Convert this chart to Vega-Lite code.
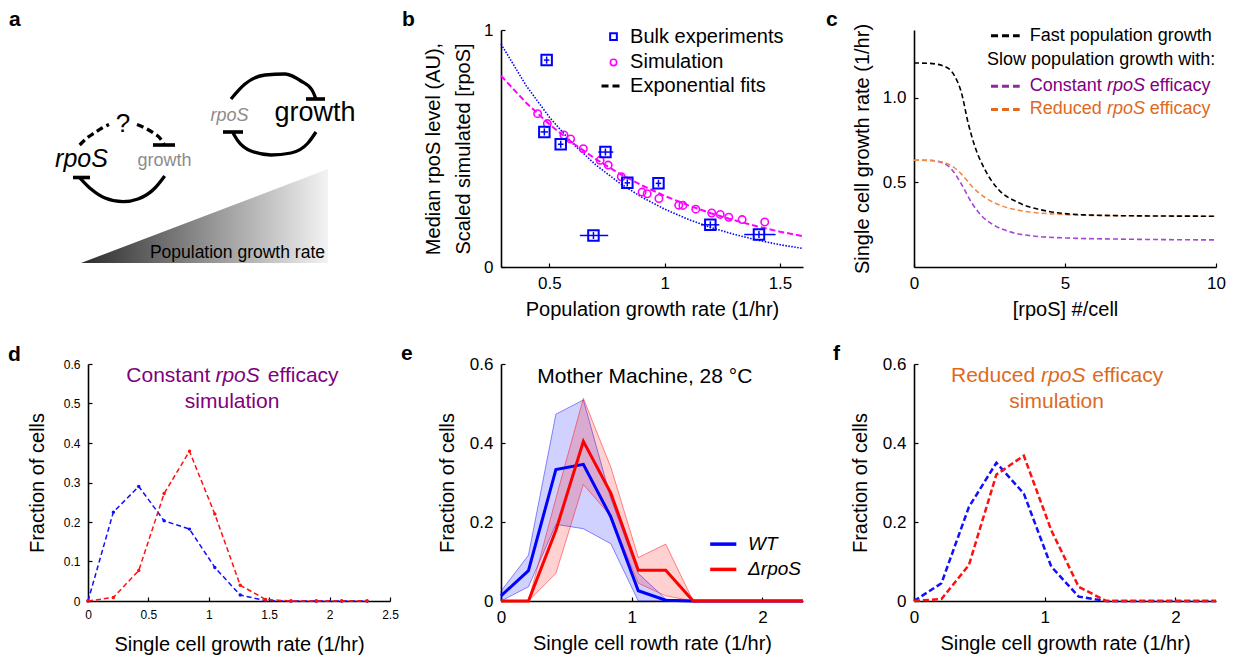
{
  "$schema": "https://vega.github.io/schema/vega-lite/v6.json",
  "background": "white",
  "padding": {"left": 8, "top": 8, "right": 5, "bottom": 5},
  "config": {
    "font": "Liberation Sans",
    "view": {"stroke": null},
    "axis": {"grid": false, "domainColor": "black", "domainWidth": 1.6, "tickColor": "black", "tickWidth": 1.2, "tickSize": -4, "labelPadding": 12, "labelColor": "black", "labelFontSize": 17, "labelFont": "Liberation Sans", "titleFont": "Liberation Sans", "titleFontSize": 20, "titleFontWeight": "normal", "titleColor": "black", "labelFlush": false, "labelOverlap": false, "titlePadding": 8},
    "title": {"fontSize": 21, "fontWeight": "bold", "anchor": "start", "frame": "group", "color": "black", "font": "Liberation Sans", "offset": 4}
  },
  "columns": 3,
  "bounds": "flush",
  "spacing": {"row": 97, "column": 111},
  "datasets": {
    "a_arcs": [
      {"x": 166.7, "y": 175, "arc": "L"}, {"x": 157, "y": 187, "arc": "L"}, {"x": 140, "y": 198, "arc": "L"}, {"x": 125, "y": 200.7, "arc": "L"}, {"x": 107, "y": 197, "arc": "L"}, {"x": 93, "y": 188, "arc": "L"}, {"x": 82, "y": 177, "arc": "L"},
      {"x": 233, "y": 98, "arc": "RT"}, {"x": 247, "y": 83, "arc": "RT"}, {"x": 267, "y": 74, "arc": "RT"}, {"x": 287, "y": 73, "arc": "RT"}, {"x": 303, "y": 80, "arc": "RT"}, {"x": 314, "y": 89, "arc": "RT"}, {"x": 318, "y": 98, "arc": "RT"},
      {"x": 318, "y": 131, "arc": "RB"}, {"x": 310, "y": 142, "arc": "RB"}, {"x": 293, "y": 152, "arc": "RB"}, {"x": 273, "y": 154, "arc": "RB"}, {"x": 253, "y": 150, "arc": "RB"}, {"x": 240, "y": 140, "arc": "RB"}, {"x": 235, "y": 132, "arc": "RB"}
    ],
    "a_dashed": [
      {"x": 81.7, "y": 144, "arc": "D1"}, {"x": 89, "y": 137, "arc": "D1"}, {"x": 96.7, "y": 131.7, "arc": "D1"}, {"x": 104, "y": 127, "arc": "D1"}, {"x": 111, "y": 123.5, "arc": "D1"},
      {"x": 139, "y": 123.5, "arc": "D2"}, {"x": 147, "y": 127, "arc": "D2"}, {"x": 155, "y": 131.7, "arc": "D2"}, {"x": 161, "y": 136, "arc": "D2"}, {"x": 166, "y": 143, "arc": "D2"}
    ],
    "a_bars": [
      {"x": 155, "x2": 177, "y": 144}, {"x": 75, "x2": 92, "y": 176.5}, {"x": 308, "x2": 327, "y": 98}, {"x": 225, "x2": 245, "y": 131}
    ],
    "b_fit_bulk": [
      {"x": 0.29, "y": 0.941}, {"x": 0.4, "y": 0.764}, {"x": 0.5, "y": 0.632}, {"x": 0.6, "y": 0.522}, {"x": 0.7, "y": 0.432}, {"x": 0.8, "y": 0.357}, {"x": 0.9, "y": 0.295}, {"x": 1.0, "y": 0.244}, {"x": 1.1, "y": 0.202}, {"x": 1.2, "y": 0.167}, {"x": 1.3, "y": 0.138}, {"x": 1.4, "y": 0.114}, {"x": 1.5, "y": 0.094}, {"x": 1.6, "y": 0.078}
    ],
    "b_fit_sim": [
      {"x": 0.29, "y": 0.807}, {"x": 0.4, "y": 0.692}, {"x": 0.5, "y": 0.602}, {"x": 0.6, "y": 0.524}, {"x": 0.7, "y": 0.456}, {"x": 0.8, "y": 0.396}, {"x": 0.9, "y": 0.345}, {"x": 1.0, "y": 0.300}, {"x": 1.1, "y": 0.261}, {"x": 1.2, "y": 0.227}, {"x": 1.3, "y": 0.198}, {"x": 1.4, "y": 0.172}, {"x": 1.5, "y": 0.149}, {"x": 1.6, "y": 0.130}
    ],
    "b_sim": [
      {"x": 0.449, "y": 0.647}, {"x": 0.491, "y": 0.605}, {"x": 0.563, "y": 0.557}, {"x": 0.592, "y": 0.540}, {"x": 0.647, "y": 0.499}, {"x": 0.720, "y": 0.450}, {"x": 0.755, "y": 0.430}, {"x": 0.812, "y": 0.381}, {"x": 0.902, "y": 0.316}, {"x": 0.924, "y": 0.309}, {"x": 0.975, "y": 0.289}, {"x": 1.061, "y": 0.261}, {"x": 1.079, "y": 0.260}, {"x": 1.135, "y": 0.244}, {"x": 1.204, "y": 0.228}, {"x": 1.241, "y": 0.222}, {"x": 1.278, "y": 0.210}, {"x": 1.336, "y": 0.200}, {"x": 1.434, "y": 0.190}
    ],
    "b_bulk": [
      {"x": 0.488, "y": 0.873}, {"x": 0.478, "y": 0.570}, {"x": 0.549, "y": 0.518}, {"x": 0.743, "y": 0.485}, {"x": 0.838, "y": 0.355}, {"x": 0.973, "y": 0.353}, {"x": 0.691, "y": 0.133}, {"x": 1.198, "y": 0.178}, {"x": 1.409, "y": 0.137}
    ],
    "b_xerr": [
      {"x": 0.476, "x2": 0.500, "y": 0.873}, {"x": 0.462, "x2": 0.494, "y": 0.570}, {"x": 0.537, "x2": 0.561, "y": 0.518}, {"x": 0.712, "x2": 0.777, "y": 0.485}, {"x": 0.826, "x2": 0.850, "y": 0.355}, {"x": 0.961, "x2": 0.985, "y": 0.353}, {"x": 0.632, "x2": 0.755, "y": 0.133}, {"x": 1.158, "x2": 1.237, "y": 0.178}, {"x": 1.345, "x2": 1.481, "y": 0.137}
    ],
    "b_yerr": [
      {"x": 0.488, "y": 0.858, "y2": 0.888}, {"x": 0.478, "y": 0.555, "y2": 0.585}, {"x": 0.549, "y": 0.503, "y2": 0.533}, {"x": 0.743, "y": 0.470, "y2": 0.500}, {"x": 0.838, "y": 0.340, "y2": 0.370}, {"x": 0.973, "y": 0.338, "y2": 0.368}, {"x": 0.691, "y": 0.118, "y2": 0.148}, {"x": 1.198, "y": 0.163, "y2": 0.193}, {"x": 1.409, "y": 0.122, "y2": 0.152}
    ],
    "c_fast": [
      {"x": 0, "y": 1.205}, {"x": 0.5, "y": 1.203}, {"x": 1.0, "y": 1.186}, {"x": 1.35, "y": 1.127}, {"x": 1.57, "y": 1.03}, {"x": 1.79, "y": 0.853}, {"x": 2.01, "y": 0.715}, {"x": 2.34, "y": 0.578}, {"x": 2.78, "y": 0.461}, {"x": 3.44, "y": 0.382}, {"x": 4.33, "y": 0.333}, {"x": 5.65, "y": 0.308}, {"x": 7.5, "y": 0.302}, {"x": 10, "y": 0.300}
    ],
    "c_const": [
      {"x": 0, "y": 0.631}, {"x": 0.46, "y": 0.631}, {"x": 0.91, "y": 0.618}, {"x": 1.24, "y": 0.578}, {"x": 1.57, "y": 0.49}, {"x": 1.90, "y": 0.382}, {"x": 2.23, "y": 0.304}, {"x": 2.67, "y": 0.245}, {"x": 3.22, "y": 0.206}, {"x": 4.0, "y": 0.182}, {"x": 5.1, "y": 0.171}, {"x": 6.75, "y": 0.165}, {"x": 10, "y": 0.160}
    ],
    "c_red": [
      {"x": 0, "y": 0.631}, {"x": 0.68, "y": 0.627}, {"x": 1.24, "y": 0.598}, {"x": 1.57, "y": 0.549}, {"x": 1.90, "y": 0.48}, {"x": 2.34, "y": 0.412}, {"x": 2.89, "y": 0.362}, {"x": 3.66, "y": 0.329}, {"x": 4.54, "y": 0.314}, {"x": 6.2, "y": 0.304}, {"x": 10, "y": 0.300}
    ],
    "d_wt": [
      {"x": 0, "y": 0}, {"x": 0.21, "y": 0.225}, {"x": 0.42, "y": 0.290}, {"x": 0.63, "y": 0.203}, {"x": 0.84, "y": 0.182}, {"x": 1.05, "y": 0.085}, {"x": 1.26, "y": 0.015}, {"x": 1.47, "y": 0.001}, {"x": 1.68, "y": 0}, {"x": 1.89, "y": 0}, {"x": 2.1, "y": 0}, {"x": 2.31, "y": 0}
    ],
    "d_r": [
      {"x": 0, "y": 0}, {"x": 0.21, "y": 0.009}, {"x": 0.42, "y": 0.077}, {"x": 0.63, "y": 0.272}, {"x": 0.84, "y": 0.379}, {"x": 1.05, "y": 0.220}, {"x": 1.26, "y": 0.040}, {"x": 1.47, "y": 0.004}, {"x": 1.68, "y": 0}, {"x": 1.89, "y": 0}, {"x": 2.1, "y": 0}, {"x": 2.31, "y": 0}
    ],
    "e_wt": [
      {"x": 0, "y": 0.013}, {"x": 0.21, "y": 0.077}, {"x": 0.42, "y": 0.333}, {"x": 0.63, "y": 0.346}, {"x": 0.84, "y": 0.213}, {"x": 1.05, "y": 0.026}, {"x": 1.26, "y": 0.002}, {"x": 1.47, "y": 0}, {"x": 1.68, "y": 0}, {"x": 1.89, "y": 0}, {"x": 2.1, "y": 0}, {"x": 2.31, "y": 0}
    ],
    "e_r": [
      {"x": 0, "y": 0}, {"x": 0.21, "y": 0}, {"x": 0.42, "y": 0.179}, {"x": 0.63, "y": 0.404}, {"x": 0.84, "y": 0.273}, {"x": 1.05, "y": 0.078}, {"x": 1.26, "y": 0.078}, {"x": 1.47, "y": 0}, {"x": 1.68, "y": 0}, {"x": 1.89, "y": 0}, {"x": 2.1, "y": 0}, {"x": 2.31, "y": 0}
    ],
    "e_wt_band": [
      {"x": 0, "y": 0, "y2": 0.025}, {"x": 0.21, "y": 0.036, "y2": 0.116}, {"x": 0.42, "y": 0.194, "y2": 0.473}, {"x": 0.63, "y": 0.183, "y2": 0.509}, {"x": 0.84, "y": 0.145, "y2": 0.26}, {"x": 1.05, "y": 0, "y2": 0.07}, {"x": 1.26, "y": 0, "y2": 0.005}, {"x": 1.47, "y": 0, "y2": 0}
    ],
    "e_r_band": [
      {"x": 0, "y": 0, "y2": 0}, {"x": 0.21, "y": 0, "y2": 0}, {"x": 0.42, "y": 0.070, "y2": 0.26}, {"x": 0.63, "y": 0.295, "y2": 0.513}, {"x": 0.84, "y": 0.215, "y2": 0.339}, {"x": 1.05, "y": 0.045, "y2": 0.110}, {"x": 1.26, "y": 0.013, "y2": 0.144}, {"x": 1.47, "y": 0, "y2": 0}
    ],
    "f_wt": [
      {"x": 0, "y": 0}, {"x": 0.21, "y": 0.045}, {"x": 0.42, "y": 0.238}, {"x": 0.63, "y": 0.350}, {"x": 0.84, "y": 0.272}, {"x": 1.05, "y": 0.087}, {"x": 1.26, "y": 0.011}, {"x": 1.47, "y": 0}, {"x": 1.68, "y": 0}, {"x": 1.89, "y": 0}, {"x": 2.1, "y": 0}, {"x": 2.31, "y": 0}
    ],
    "f_r": [
      {"x": 0, "y": 0}, {"x": 0.21, "y": 0.005}, {"x": 0.42, "y": 0.091}, {"x": 0.63, "y": 0.320}, {"x": 0.84, "y": 0.368}, {"x": 1.05, "y": 0.179}, {"x": 1.26, "y": 0.036}, {"x": 1.47, "y": 0}, {"x": 1.68, "y": 0}, {"x": 1.89, "y": 0}, {"x": 2.1, "y": 0}, {"x": 2.31, "y": 0}
    ]
  },
  "concat": [
    {
      "width": 302, "height": 237,
      "title": {"text": "a", "dx": -79, "dy": 4},
      "encoding": {
        "x": {"field": "x", "type": "quantitative", "scale": {"domain": [90, 392], "nice": false, "zero": false}, "axis": null},
        "y": {"field": "y", "type": "quantitative", "scale": {"domain": [29, 266], "reverse": true, "nice": false, "zero": false}, "axis": null}
      },
      "layer": [
        {"data": {"values": [{"x": 83, "y": 262, "y2": 262}, {"x": 330, "y": 168, "y2": 262}]},
         "mark": {"type": "area", "color": {"gradient": "linear", "x1": 0, "y1": 0, "x2": 1, "y2": 0, "stops": [{"offset": 0, "color": "#2b2b2b"}, {"offset": 1, "color": "#f3f3f3"}]}},
         "encoding": {"y2": {"field": "y2"}}},
        {"data": {"values": [{"x": 327, "y": 257, "t": "Population growth rate"}]},
         "mark": {"type": "text", "fontSize": 17.5, "color": "black", "align": "right", "baseline": "alphabetic"},
         "encoding": {"text": {"field": "t"}}},
        {"data": {"name": "a_arcs"}, "mark": {"type": "line", "color": "black", "strokeWidth": 3.3, "interpolate": "monotone"}, "encoding": {"detail": {"field": "arc"}}},
        {"data": {"name": "a_dashed"}, "mark": {"type": "line", "color": "black", "strokeWidth": 3.3, "strokeDash": [7, 4], "interpolate": "monotone"}, "encoding": {"detail": {"field": "arc"}}},
        {"data": {"name": "a_bars"}, "mark": {"type": "rule", "color": "black", "strokeWidth": 3.6}, "encoding": {"x2": {"field": "x2"}}},
        {"data": {"values": [{"x": 83.5, "y": 166, "t": "rpoS"}]}, "mark": {"type": "text", "fontSize": 25, "fontStyle": "italic", "color": "black", "align": "center", "baseline": "alphabetic"}, "encoding": {"text": {"field": "t"}}},
        {"data": {"values": [{"x": 166.5, "y": 165, "t": "growth"}]}, "mark": {"type": "text", "fontSize": 18, "color": "#8c8c8c", "align": "center", "baseline": "alphabetic"}, "encoding": {"text": {"field": "t"}}},
        {"data": {"values": [{"x": 125, "y": 131, "t": "?"}]}, "mark": {"type": "text", "fontSize": 26, "color": "black", "align": "center", "baseline": "alphabetic"}, "encoding": {"text": {"field": "t"}}},
        {"data": {"values": [{"x": 231.5, "y": 120, "t": "rpoS"}]}, "mark": {"type": "text", "fontSize": 18, "fontStyle": "italic", "color": "#8c8c8c", "align": "center", "baseline": "alphabetic"}, "encoding": {"text": {"field": "t"}}},
        {"data": {"values": [{"x": 317, "y": 120, "t": "growth"}]}, "mark": {"type": "text", "fontSize": 27, "color": "black", "align": "center", "baseline": "alphabetic"}, "encoding": {"text": {"field": "t"}}}
      ]
    },
    {
      "width": 302, "height": 237,
      "title": {"text": "b", "dx": -99, "dy": 12.5},
      "encoding": {
        "x": {"field": "x", "type": "quantitative", "scale": {"domain": [0.29, 1.6], "nice": false, "zero": false}, "axis": {"values": [0.5, 1, 1.5], "labelExpr": "format(datum.value, '~g')", "title": "Population growth rate (1/hr)"}},
        "y": {"field": "y", "type": "quantitative", "scale": {"domain": [0, 1], "nice": false}, "axis": {"values": [0, 1], "labelExpr": "format(datum.value, '~g')", "title": ["Median rpoS level (AU),", "Scaled simulated [rpoS]"], "titleLineHeight": 30, "titlePadding": 10}}
      },
      "layer": [
        {"data": {"name": "b_fit_bulk"}, "mark": {"type": "line", "color": "#0000ff", "strokeWidth": 1.6, "strokeDash": [1.5, 1.5]}},
        {"data": {"name": "b_fit_sim"}, "mark": {"type": "line", "color": "#ff00ff", "strokeWidth": 2, "strokeDash": [6, 3]}},
        {"data": {"name": "b_sim"}, "mark": {"type": "point", "shape": "circle", "filled": false, "color": "#ff00ff", "size": 55, "strokeWidth": 1.6, "opacity": 1}},
        {"data": {"name": "b_xerr"}, "mark": {"type": "rule", "color": "#0000ff", "strokeWidth": 1.5}, "encoding": {"x2": {"field": "x2"}}},
        {"data": {"name": "b_yerr"}, "mark": {"type": "rule", "color": "#0000ff", "strokeWidth": 1.5}, "encoding": {"y2": {"field": "y2"}}},
        {"data": {"name": "b_bulk"}, "mark": {"type": "point", "shape": "square", "filled": false, "color": "#0000ff", "size": 110, "strokeWidth": 2, "opacity": 1}},
        {"data": {"values": [{"x": 0.778, "y": 0.972}]}, "mark": {"type": "point", "shape": "square", "filled": false, "color": "#0000ff", "size": 45, "strokeWidth": 2, "opacity": 1}},
        {"data": {"values": [{"x": 0.778, "y": 0.863}]}, "mark": {"type": "point", "shape": "circle", "filled": false, "color": "#ff00ff", "size": 40, "strokeWidth": 1.6, "opacity": 1}},
        {"data": {"values": [{"x": 0.726, "y": 0.764}, {"x": 0.812, "y": 0.764}]}, "mark": {"type": "line", "color": "black", "strokeWidth": 3, "strokeDash": [7, 4]}},
        {"data": {"values": [{"x": 0.85, "y": 0.972, "t": "Bulk experiments"}, {"x": 0.85, "y": 0.863, "t": "Simulation"}, {"x": 0.85, "y": 0.764, "t": "Exponential fits"}]}, "mark": {"type": "text", "fontSize": 20, "color": "black", "align": "left", "baseline": "middle"}, "encoding": {"text": {"field": "t"}}}
      ]
    },
    {
      "width": 302, "height": 237,
      "title": {"text": "c", "dx": -88, "dy": 10.5},
      "encoding": {
        "x": {"field": "x", "type": "quantitative", "scale": {"domain": [0, 10], "nice": false}, "axis": {"values": [0, 5, 10], "title": "[rpoS] #/cell"}},
        "y": {"field": "y", "type": "quantitative", "scale": {"domain": [0, 1.4], "nice": false}, "axis": {"values": [0.5, 1.0], "format": ".1f", "title": "Single cell growth rate (1/hr)", "titlePadding": 10}}
      },
      "layer": [
        {"data": {"name": "c_const"}, "mark": {"type": "line", "color": "#a445d4", "strokeWidth": 1.6, "strokeDash": [5, 3], "interpolate": "monotone"}},
        {"data": {"name": "c_red"}, "mark": {"type": "line", "color": "#f08a48", "strokeWidth": 1.6, "strokeDash": [5, 3], "interpolate": "monotone"}},
        {"data": {"name": "c_fast"}, "mark": {"type": "line", "color": "black", "strokeWidth": 1.6, "strokeDash": [5, 3], "interpolate": "monotone"}},
        {"data": {"values": [{"x": 2.55, "y": 1.366}, {"x": 3.5, "y": 1.366}]}, "mark": {"type": "line", "color": "black", "strokeWidth": 3, "strokeDash": [7, 4]}},
        {"data": {"values": [{"x": 2.55, "y": 1.068}, {"x": 3.5, "y": 1.068}]}, "mark": {"type": "line", "color": "#8e2a9e", "strokeWidth": 3, "strokeDash": [7, 4]}},
        {"data": {"values": [{"x": 2.55, "y": 0.931}, {"x": 3.5, "y": 0.931}]}, "mark": {"type": "line", "color": "#e06a20", "strokeWidth": 3, "strokeDash": [7, 4]}},
        {"data": {"values": [{"x": 3.83, "y": 1.366, "t": "Fast population growth"}, {"x": 2.42, "y": 1.221, "t": "Slow population growth with:"}]}, "mark": {"type": "text", "fontSize": 18, "color": "black", "align": "left", "baseline": "middle"}, "encoding": {"text": {"field": "t"}}},
        {"data": {"values": [{"x": 3.83, "y": 1.068, "t": "Constant"}]}, "mark": {"type": "text", "fontSize": 18, "color": "#800080", "align": "left", "baseline": "middle"}, "encoding": {"text": {"field": "t"}}},
        {"data": {"values": [{"x": 3.83, "y": 0.931, "t": "Reduced"}]}, "mark": {"type": "text", "fontSize": 18, "color": "#dd6a1e", "align": "left", "baseline": "middle"}, "encoding": {"text": {"field": "t"}}},
        {"data": {"values": [{"x": 6.39, "y": 1.068, "t": "rpoS"}]}, "mark": {"type": "text", "fontSize": 18, "fontStyle": "italic", "color": "#800080", "align": "left", "baseline": "middle"}, "encoding": {"text": {"field": "t"}}},
        {"data": {"values": [{"x": 6.39, "y": 0.931, "t": "rpoS"}]}, "mark": {"type": "text", "fontSize": 18, "fontStyle": "italic", "color": "#dd6a1e", "align": "left", "baseline": "middle"}, "encoding": {"text": {"field": "t"}}},
        {"data": {"values": [{"x": 7.81, "y": 1.068, "t": "efficacy"}]}, "mark": {"type": "text", "fontSize": 18, "color": "#800080", "align": "left", "baseline": "middle"}, "encoding": {"text": {"field": "t"}}},
        {"data": {"values": [{"x": 7.81, "y": 0.931, "t": "efficacy"}]}, "mark": {"type": "text", "fontSize": 18, "color": "#dd6a1e", "align": "left", "baseline": "middle"}, "encoding": {"text": {"field": "t"}}}
      ]
    },
    {
      "width": 302, "height": 237,
      "title": {"text": "d", "dx": -80, "dy": 11},
      "encoding": {
        "x": {"field": "x", "type": "quantitative", "scale": {"domain": [0, 2.5], "nice": false}, "axis": {"values": [0, 0.5, 1, 1.5, 2, 2.5], "labelExpr": "format(datum.value, '~g')", "labelFontSize": 12, "title": "Single cell growth rate (1/hr)", "titlePadding": 14}},
        "y": {"field": "y", "type": "quantitative", "scale": {"domain": [0, 0.6], "nice": false}, "axis": {"values": [0, 0.1, 0.2, 0.3, 0.4, 0.5, 0.6], "labelExpr": "format(datum.value, '~g')", "labelFontSize": 12, "title": "Fraction of cells", "titlePadding": 16}}
      },
      "layer": [
        {"data": {"name": "d_wt"}, "mark": {"type": "line", "color": "#1010ff", "strokeWidth": 1.5, "strokeDash": [5, 3], "point": {"filled": true, "size": 12, "color": "#1010ff"}}},
        {"data": {"name": "d_r"}, "mark": {"type": "line", "color": "#ff1010", "strokeWidth": 1.5, "strokeDash": [5, 3], "point": {"filled": true, "size": 12, "color": "#ff1010"}}},
        {"data": {"values": [{"x": 1.013, "y": 0.570, "t": "Constant"}]}, "mark": {"type": "text", "fontSize": 21, "color": "#800080", "align": "right", "baseline": "middle"}, "encoding": {"text": {"field": "t"}}},
        {"data": {"values": [{"x": 1.055, "y": 0.570, "t": "rpoS"}]}, "mark": {"type": "text", "fontSize": 21, "fontStyle": "italic", "color": "#800080", "align": "left", "baseline": "middle"}, "encoding": {"text": {"field": "t"}}},
        {"data": {"values": [{"x": 1.488, "y": 0.570, "t": "efficacy"}]}, "mark": {"type": "text", "fontSize": 21, "color": "#800080", "align": "left", "baseline": "middle"}, "encoding": {"text": {"field": "t"}}},
        {"data": {"values": [{"x": 1.193, "y": 0.503, "t": "simulation"}]}, "mark": {"type": "text", "fontSize": 21, "color": "#800080", "align": "center", "baseline": "middle"}, "encoding": {"text": {"field": "t"}}}
      ]
    },
    {
      "width": 302, "height": 237,
      "title": {"text": "e", "dx": -100, "dy": 12.5},
      "encoding": {
        "x": {"field": "x", "type": "quantitative", "scale": {"domain": [0, 2.31], "nice": false}, "axis": {"values": [0, 1, 2], "title": "Single cell rowth rate (1/hr)"}},
        "y": {"field": "y", "type": "quantitative", "scale": {"domain": [0, 0.6], "nice": false}, "axis": {"values": [0, 0.2, 0.4, 0.6], "labelExpr": "format(datum.value, '~g')", "title": "Fraction of cells", "titlePadding": 12}}
      },
      "layer": [
        {"data": {"name": "e_wt_band"}, "mark": {"type": "area", "color": "#0000ff", "fillOpacity": 0.18, "stroke": "#0000ff", "strokeOpacity": 0.45, "strokeWidth": 1}, "encoding": {"y2": {"field": "y2"}}},
        {"data": {"name": "e_r_band"}, "mark": {"type": "area", "color": "#ff0000", "fillOpacity": 0.18, "stroke": "#ff0000", "strokeOpacity": 0.45, "strokeWidth": 1}, "encoding": {"y2": {"field": "y2"}}},
        {"data": {"name": "e_wt"}, "mark": {"type": "line", "color": "#0000ff", "strokeWidth": 3}},
        {"data": {"name": "e_r"}, "mark": {"type": "line", "color": "#ff0000", "strokeWidth": 3}},
        {"data": {"values": [{"x": 1.60, "y": 0.144}, {"x": 1.80, "y": 0.144}]}, "mark": {"type": "line", "color": "#0000ff", "strokeWidth": 3.5}},
        {"data": {"values": [{"x": 1.60, "y": 0.080}, {"x": 1.80, "y": 0.080}]}, "mark": {"type": "line", "color": "#ff0000", "strokeWidth": 3.5}},
        {"data": {"values": [{"x": 1.89, "y": 0.144, "t": "WT"}, {"x": 1.89, "y": 0.080, "t": "ΔrpoS"}]}, "mark": {"type": "text", "fontSize": 19, "fontStyle": "italic", "color": "black", "align": "left", "baseline": "middle"}, "encoding": {"text": {"field": "t"}}},
        {"data": {"values": [{"x": 1.10, "y": 0.567, "t": "Mother Machine, 28 °C"}]}, "mark": {"type": "text", "fontSize": 21, "color": "black", "align": "center", "baseline": "middle"}, "encoding": {"text": {"field": "t"}}}
      ]
    },
    {
      "width": 302, "height": 237,
      "title": {"text": "f", "dx": -81, "dy": 12.5},
      "encoding": {
        "x": {"field": "x", "type": "quantitative", "scale": {"domain": [0, 2.31], "nice": false}, "axis": {"values": [0, 1, 2], "title": "Single cell growth rate (1/hr)"}},
        "y": {"field": "y", "type": "quantitative", "scale": {"domain": [0, 0.6], "nice": false}, "axis": {"values": [0, 0.2, 0.4, 0.6], "labelExpr": "format(datum.value, '~g')", "title": "Fraction of cells", "titlePadding": 12}}
      },
      "layer": [
        {"data": {"name": "f_wt"}, "mark": {"type": "line", "color": "#1010ff", "strokeWidth": 2.5, "strokeDash": [6, 3]}},
        {"data": {"name": "f_r"}, "mark": {"type": "line", "color": "#ff1010", "strokeWidth": 2.5, "strokeDash": [6, 3]}},
        {"data": {"values": [{"x": 0.926, "y": 0.570, "t": "Reduced"}]}, "mark": {"type": "text", "fontSize": 21, "color": "#dd6a1e", "align": "right", "baseline": "middle"}, "encoding": {"text": {"field": "t"}}},
        {"data": {"values": [{"x": 0.972, "y": 0.570, "t": "rpoS"}]}, "mark": {"type": "text", "fontSize": 21, "fontStyle": "italic", "color": "#dd6a1e", "align": "left", "baseline": "middle"}, "encoding": {"text": {"field": "t"}}},
        {"data": {"values": [{"x": 1.364, "y": 0.570, "t": "efficacy"}]}, "mark": {"type": "text", "fontSize": 21, "color": "#dd6a1e", "align": "left", "baseline": "middle"}, "encoding": {"text": {"field": "t"}}},
        {"data": {"values": [{"x": 1.091, "y": 0.503, "t": "simulation"}]}, "mark": {"type": "text", "fontSize": 21, "color": "#dd6a1e", "align": "center", "baseline": "middle"}, "encoding": {"text": {"field": "t"}}}
      ]
    }
  ]
}
